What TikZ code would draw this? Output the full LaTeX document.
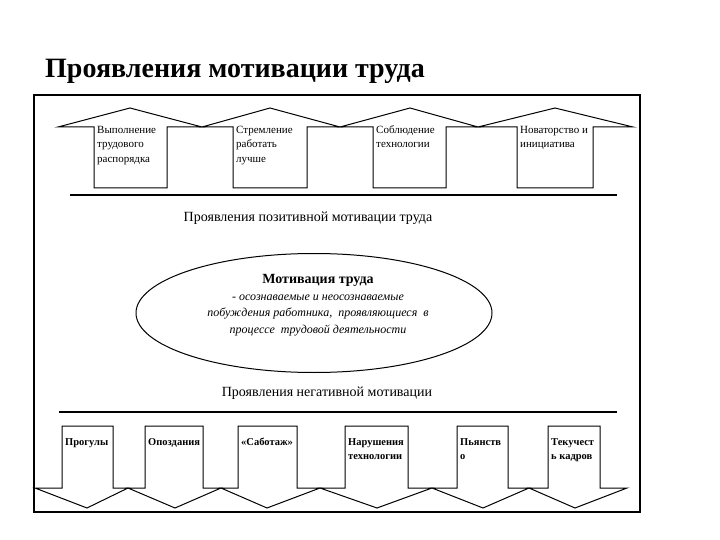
\documentclass[tikz,border=0pt]{standalone}
\usepackage{fontspec}
\setmainfont{Liberation Serif}
\usepackage{tikz}
\usetikzlibrary{shapes.geometric}

\begin{document}
\begin{tikzpicture}[x=1pt,y=-1pt,
  upbox/.style={anchor=north west,inner sep=1pt,font=\fontsize{11}{14.5}\selectfont},
  downbox/.style={anchor=north west,inner sep=1pt,font=\fontsize{10.5}{14}\selectfont\bfseries},
  caption/.style={inner sep=0pt,font=\fontsize{14}{16}\selectfont},
  shape line/.style={line width=1pt}]
\useasboundingbox (0,0) rectangle (720,540);
\node[anchor=base west,inner sep=0pt,font=\fontsize{28}{30}\selectfont\bfseries] (title) at (45,78) {Проявления мотивации труда};
\draw[line width=1.5pt] (34,95) rectangle (640,512);
\foreach \vl/\ap/\vr/\bl/\br/\txt [count=\i] in {
  58/130/202/94/167/{Выполнение\\трудового\\распорядка},
  202/270/340/233/307/{Стремление\\работать\\лучше},
  340/410/478/373/446/{Соблюдение\\технологии},
  478/555/633/517/593/{Новаторство и\\инициатива}} {
  \draw[shape line] (\vl,127) -- (\ap,108) -- (\vr,127) -- (\br,127) -- (\br,188) -- (\bl,188) -- (\bl,127) -- cycle;
  \node[upbox] (up\i) at (\bl+2,122) {\begin{tabular}[t]{@{}l@{}}\txt\end{tabular}};
}
\draw[line width=1.6pt] (70,195) -- (617,195);
\node[caption] (positive) at (308,218) {Проявления позитивной мотивации труда};
\node[ellipse,draw,shape line,minimum width=356pt,minimum height=119pt] (motiv) at (314,313) {};
\node[align=center,inner sep=0pt,font=\fontsize{12}{16.5}\selectfont\itshape] (motivtext) at (318,305)
  {{\upshape\bfseries\fontsize{14}{16.5}\selectfont Мотивация труда}\\
   - осознаваемые и неосознаваемые\\
   побуждения работника,\ \ проявляющиеся\ \ в\\
   процессе\ \ трудовой деятельности};
\node[caption] (negative) at (327,393) {Проявления негативной мотивации};
\draw[line width=1.6pt] (59,412) -- (617,412);
\foreach \vl/\tp/\vr/\bl/\br/\txt [count=\i] in {
  35/87/128/62/113/{Прогулы},
  128/175/221/145/203/{Опоздания},
  221/267/320/238/297/{«Саботаж»},
  320/377/432/345/408/{Нарушения\\технологии},
  432/483/529/457/508/{Пьянств\\о},
  529/575/627/548/600/{Текучест\\ь кадров}} {
  \draw[shape line] (\bl,426) -- (\br,426) -- (\br,488) -- (\vr,488) -- (\tp,508) -- (\vl,488) -- (\bl,488) -- cycle;
  \node[downbox] (down\i) at (\bl+2,434) {\begin{tabular}[t]{@{}l@{}}\txt\end{tabular}};
}
\end{tikzpicture}
\end{document}
